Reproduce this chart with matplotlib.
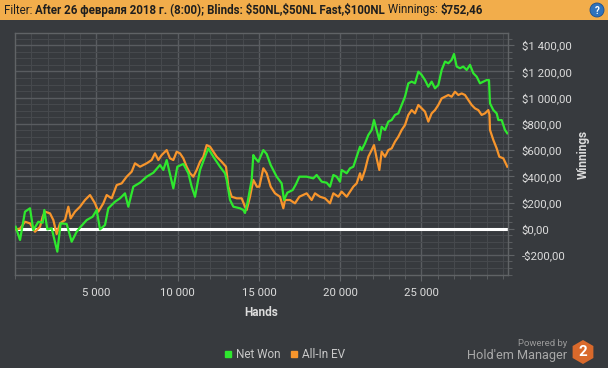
import numpy as np
import matplotlib
matplotlib.use('Agg')
import matplotlib.pyplot as plt
from matplotlib.patches import Rectangle, Circle, RegularPolygon
from matplotlib.ticker import MultipleLocator, FuncFormatter

plt.rcParams['font.family'] = ['Roboto', 'DejaVu Sans']

# ---- data (hands, dollars) ----
net_hands = [40, 308, 615, 922, 1127, 1435, 1701, 1804, 1988, 2255, 2603, 2808, 3178, 3485, 3793,
             4039, 4408, 4777, 5023, 5228, 5535, 5740, 6150, 6458, 6765, 6970, 7278, 7688, 8098,
             8508, 8918, 9123, 9328, 9738, 9984, 10353, 10660, 10865, 11070, 11378, 11685, 11890,
             12198, 12608, 12915, 13018, 13223, 13428, 13838, 14043, 14145, 14289, 14555, 14657,
             14760, 14965, 15273, 15478, 15724, 16093, 16400, 16544, 16749, 17078, 17282, 17487,
             17938, 18348, 18553, 18860, 19168, 19373, 19578, 19783, 19988, 20090, 20398, 20603,
             20808, 21013, 21218, 21320, 21525, 21730, 21935, 22079, 22243, 22407, 22550, 22755,
             22960, 23165, 23370, 23575, 23780, 23985, 24190, 24395, 24600, 24805, 25010, 25215,
             25420, 25625, 25830, 26035, 26240, 26445, 26650, 26855, 26999, 27163, 27368, 27570,
             27778, 27983, 28188, 28393, 28598, 28803, 29008, 29150, 29213, 29418, 29623, 29726,
             29930, 30135, 30277]
net_won = [15, -86, 130, 156, -10, 53, 46, 143, -5, 3, -175, 41, 36, -99, -23,
           15, 66, 92, 143, -5, 28, 156, 206, 232, 270, 168, 321, 351, 397,
           427, 486, 448, 524, 308, 473, 494, 423, 321, 244, 448, 549, 613,
           549, 473, 423, 372, 220, 168, 156, 143, 120, 193, 372, 562,
           540, 511, 600, 570, 486, 397, 346, 219, 275, 295, 340, 397,
           397, 384, 410, 359, 351, 321, 410, 397, 359, 448, 423, 461,
           473, 549, 626, 600, 651, 715, 753, 829, 753, 677, 778, 753,
           817, 829, 868, 880, 944, 1007, 1109, 1122, 1109, 1198, 1173, 1134,
           1083, 1122, 1071, 1096, 1211, 1275, 1262, 1288, 1333, 1237, 1224, 1237,
           1211, 1250, 1186, 1160, 1109, 1122, 1134, 1134, 956, 905, 880, 829,
           829, 753, 728]

ev_hands = [40, 308, 615, 922, 1230, 1538, 1701, 1845, 2153, 2358, 2563, 2768, 3075, 3280, 3424,
            3690, 3998, 4305, 4613, 4920, 5125, 5433, 5638, 5945, 6253, 6560, 6868, 7175, 7380,
            7688, 8098, 8405, 8610, 8815, 9020, 9328, 9533, 9738, 9943, 10148, 10353, 10558,
            10763, 10968, 11173, 11378, 11583, 11788, 11993, 12198, 12403, 12710, 12977, 13120,
            13325, 13633, 13940, 14145, 14248, 14453, 14657, 14880, 15026, 15273, 15478, 15724,
            15990, 16298, 16503, 16605, 16913, 17220, 17487, 17938, 18245, 18450, 18758, 19065,
            19373, 19578, 19885, 20090, 20398, 20603, 20808, 21013, 21218, 21320, 21525, 21730,
            21935, 22079, 22243, 22407, 22550, 22755, 22960, 23165, 23370, 23575, 23780, 23985,
            24190, 24395, 24600, 24805, 25010, 25215, 25420, 25625, 25830, 26035, 26240, 26445,
            26650, 26855, 27060, 27265, 27470, 27675, 27880, 28085, 28290, 28495, 28700, 28905,
            29110, 29180, 29213, 29418, 29623, 29787, 30033, 30277]
all_in_ev = [-5, 0, 53, 41, -23, 15, 92, 130, 117, 66, -41, 41, 66, 168, 79,
             130, 168, 219, 257, 194, 130, 194, 257, 232, 333, 346, 397, 435, 499,
             473, 499, 524, 575, 524, 562, 600, 537, 524, 587, 575, 537, 473,
             423, 397, 448, 511, 549, 638, 626, 587, 549, 511, 473, 321,
             244, 232, 232, 168, 143, 244, 372, 320, 321, 461, 423, 321,
             270, 244, 156, 219, 219, 194, 244, 270, 219, 270, 244, 232,
             194, 270, 244, 283, 244, 283, 321, 346, 423, 372, 448, 549,
             600, 638, 537, 448, 587, 549, 600, 613, 664, 702, 753, 791,
             868, 905, 880, 944, 918, 893, 817, 880, 905, 944, 994, 1007,
             1020, 1007, 1045, 1020, 1032, 1020, 982, 944, 918, 905, 868, 880,
             905, 870, 753, 677, 613, 549, 537, 473]

y_ticks = [-200, 0, 200, 400, 600, 800, 1000, 1200, 1400]
x_ticks = [5000, 10000, 15000, 20000, 25000]

BG = '#373a3e'
TXT = '#dcdcdc'

fig = plt.figure(figsize=(6.08, 3.68), dpi=100, facecolor=BG)
ax = fig.add_axes([15 / 608, 1 - 275 / 368, 493 / 608, 242 / 368])
ax.set_facecolor(BG)

ax.set_xlim(0, 30320)
ax.set_ylim(-353, 1493)

ax.xaxis.set_major_locator(MultipleLocator(5000))
ax.xaxis.set_minor_locator(MultipleLocator(1000))
ax.yaxis.set_major_locator(MultipleLocator(200))
ax.yaxis.set_minor_locator(MultipleLocator(50))

ax.grid(True, which='minor', color='#46494d', linewidth=0.8)
ax.grid(True, which='major', color='#595c60', linewidth=1.0)
ax.set_axisbelow(True)

for s in ax.spines.values():
    s.set_color('#606366')
    s.set_linewidth(1.0)

ax.axhline(0, color='white', linewidth=2.2, zorder=2)
ax.plot(net_hands, net_won, color='#2ee82e', linewidth=1.6, zorder=4, label='Net Won')
ax.plot(ev_hands, all_in_ev, color='#f7952c', linewidth=1.6, zorder=3, label='All-In EV')


def money(v, pos):
    s = f'{abs(v):,.2f}'.replace(',', ' ').replace('.', ',')
    return ('-$' if v < 0 else '$') + s


ax.yaxis.tick_right()
ax.yaxis.set_major_formatter(FuncFormatter(money))
ax.set_yticks(y_ticks)
ax.xaxis.set_major_formatter(FuncFormatter(lambda v, p: f'{int(v):,}'.replace(',', ' ')))
ax.set_xticks(x_ticks)
ax.tick_params(axis='both', which='major', colors='#606366', labelcolor=TXT, labelsize=8.2, length=4)
ax.tick_params(axis='both', which='minor', colors='#606366', length=3)
ax.tick_params(axis='y', pad=6)
ax.tick_params(axis='x', pad=5)

fig.text(261 / 608, 1 - 312 / 368, 'Hands', color=TXT, fontsize=8.5, fontweight='bold',
         ha='center', va='center')
fig.text(583 / 608, 1 - 154 / 368, 'Winnings', color=TXT, fontsize=8.5, fontweight='bold',
         ha='center', va='center', rotation=90)

# legend
fig.legend(loc='center', bbox_to_anchor=(285 / 608, 1 - 355 / 368), ncol=2, frameon=False,
           handlelength=0.6, handletextpad=0.4, columnspacing=0.8, fontsize=8.5,
           labelcolor='#c8c8c8',
           handles=[plt.Line2D([], [], color='#2ee82e', marker='s', linestyle='', markersize=5),
                    plt.Line2D([], [], color='#f7952c', marker='s', linestyle='', markersize=5)],
           labels=['Net Won', 'All-In EV'])

# header bar
fig.patches.append(Rectangle((0, 1 - 20 / 368), 1, 20 / 368, transform=fig.transFigure,
                             facecolor='#f2ad4b', edgecolor='none'))
pieces = [('Filter: ', 'normal'),
          ('After 26 февраля 2018 г. (8:00); Blinds: $50NL,$50NL Fast,$100NL ', 'bold'),
          ('Winnings: ', 'normal'),
          ('$752,46', 'bold')]
renderer = fig.canvas.get_renderer()
x0 = 4
for txt, w in pieces:
    t = fig.text(x0 / 608, 1 - 10 / 368, txt, color='#1e1e1e', fontsize=8.3, fontweight=w,
                 ha='left', va='center')
    bb = t.get_window_extent(renderer)
    x0 += bb.width

# pixel-based transform for round shapes (inches from bottom-left)
px = fig.dpi_scale_trans
fig.patches.append(Circle((5.97, 3.58), 0.07, transform=px,
                          facecolor='#2f73bd', edgecolor='#1d4f8c', linewidth=0.6))
fig.text(597 / 608, 1 - 10.5 / 368, '?', color='white', fontsize=7, fontweight='bold',
         ha='center', va='center')

# branding
fig.text(567 / 608, 1 - 343 / 368, 'Powered by', color='#9a9a9a', fontsize=6.8, ha='right', va='center')
fig.text(567 / 608, 1 - 355 / 368, "Hold'em Manager", color='#a8a8a8', fontsize=9.2, ha='right', va='center')
fig.patches.append(RegularPolygon((5.83, 0.16), 6, radius=0.12, transform=px,
                                  facecolor='#d9692b', edgecolor='none'))
fig.text(583 / 608, 1 - 352 / 368, '2', color='white', fontsize=11, fontweight='bold',
         ha='center', va='center')

fig.savefig('out.png', dpi=100, facecolor=BG)
